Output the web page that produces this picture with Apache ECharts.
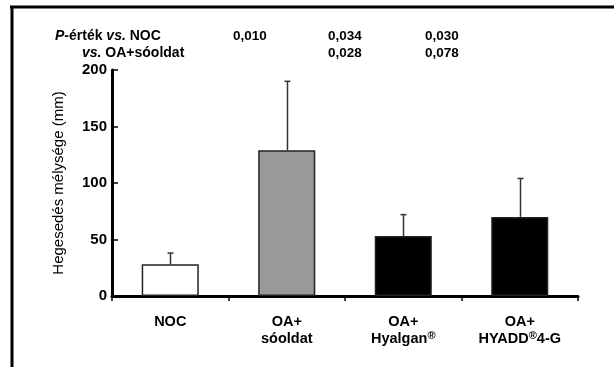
<!DOCTYPE html>
<html>
<head>
<meta charset="utf-8">
<script src="https://cdn.jsdelivr.net/npm/echarts@6/dist/echarts.min.js"></script>
<style>
html,body{margin:0;padding:0;background:#fff;}
#main{width:614px;height:367px;}
</style>
</head>
<body>
<div id="main"></div>
<script>
// csoportok
var categories = ['NOC', 'OA+\nsóoldat', 'OA+\nHyalgan{sup|®}', 'OA+\nHYADD{sup|®}4-G'];
// átlag és felső hibahatár (mm)
var means = [28, 129, 53, 70];
var upper = [38, 190, 72, 104];
var barColors = ['#ffffff', '#999999', '#000000', '#000000'];
var yTicks = [0, 50, 100, 150, 200];
// P-értékek
var pVsNoc = ['0,010', '0,034', '0,030'];
var pVsOa = ['', '0,028', '0,078'];
var pX = [233, 328, 425];

var font = 'Liberation Sans, Arial, sans-serif';
var chart = echarts.init(document.getElementById('main'));

var barData = [];
for (var i = 0; i < means.length; i++) {
	barData.push({
		value: means[i],
		itemStyle: {color: barColors[i]}
	});
}
var errData = [];
for (var i = 0; i < means.length; i++) {
	errData.push([i, means[i], upper[i]]);
}

var graphics = [
	{type: 'line', shape: {x1: 10, y1: 7, x2: 614, y2: 7}, style: {stroke: '#000', lineWidth: 3}},
	{type: 'line', shape: {x1: 12, y1: 6, x2: 12, y2: 367}, style: {stroke: '#000', lineWidth: 3}},
	{
		type: 'text', left: 55, top: 29,
		style: {
			text: '{i|P}-érték {i|vs.} NOC',
			font: 'bold 14px ' + font, fill: '#000',
			rich: {i: {fontStyle: 'italic', fontWeight: 'bold', fontSize: 14, fontFamily: font}}
		}
	},
	{
		type: 'text', left: 82, top: 46,
		style: {
			text: '{i|vs.} OA+sóoldat',
			font: 'bold 14px ' + font, fill: '#000',
			rich: {i: {fontStyle: 'italic', fontWeight: 'bold', fontSize: 14, fontFamily: font}}
		}
	}
];
for (var i = 0; i < pX.length; i++) {
	graphics.push({type: 'text', left: pX[i], top: 29, style: {text: pVsNoc[i], font: 'bold 13.5px ' + font, fill: '#000'}});
	if (pVsOa[i]) {
		graphics.push({type: 'text', left: pX[i], top: 46, style: {text: pVsOa[i], font: 'bold 13.5px ' + font, fill: '#000'}});
	}
}

var option = {
	animation: false,
	backgroundColor: '#fff',
	grid: {left: 112, right: 36, top: 70, bottom: 71},
	xAxis: {
		type: 'category',
		data: categories,
		axisLine: {lineStyle: {color: '#000', width: 3}},
		axisTick: {show: true, inside: false, length: 5, lineStyle: {color: '#000', width: 1.5}},
		axisLabel: {
			color: '#000', fontWeight: 'bold', fontSize: 14.5, fontFamily: font,
			margin: 18, lineHeight: 16.5, interval: 0,
			rich: {sup: {fontSize: 11, fontWeight: 'bold', fontFamily: font, verticalAlign: 'top', lineHeight: 16.5, padding: [0, 0, 5, 0]}}
		}
	},
	yAxis: {
		type: 'value',
		min: 0, max: 200, interval: 50,
		name: 'Hegesedés mélysége (mm)',
		nameLocation: 'middle',
		nameGap: 46,
		nameTextStyle: {color: '#000', fontSize: 15, fontFamily: font},
		axisLine: {show: true, lineStyle: {color: '#000', width: 3}},
		axisTick: {show: true, inside: true, length: 6, lineStyle: {color: '#000', width: 1.5}},
		axisLabel: {color: '#000', fontWeight: 'bold', fontSize: 15, fontFamily: font, margin: 5},
		splitLine: {show: false}
	},
	series: [
		{
			type: 'bar',
			data: barData,
			barWidth: '49%',
			itemStyle: {borderColor: '#222', borderWidth: 1.5},
			z: 2
		},
		{
			type: 'custom',
			data: errData,
			z: 3,
			renderItem: function (params, api) {
				var base = api.coord([api.value(0), api.value(1)]);
				var top = api.coord([api.value(0), api.value(2)]);
				var x = Math.round(base[0]) + 0.5;
				return {
					type: 'group',
					children: [
						{type: 'line', shape: {x1: x, y1: base[1], x2: x, y2: top[1]}, style: {stroke: '#333', lineWidth: 1.5}},
						{type: 'line', shape: {x1: x - 3, y1: top[1], x2: x + 3, y2: top[1]}, style: {stroke: '#333', lineWidth: 1.5}}
					]
				};
			}
		}
	],
	graphic: graphics
};
chart.setOption(option);
</script>
</body>
</html>
